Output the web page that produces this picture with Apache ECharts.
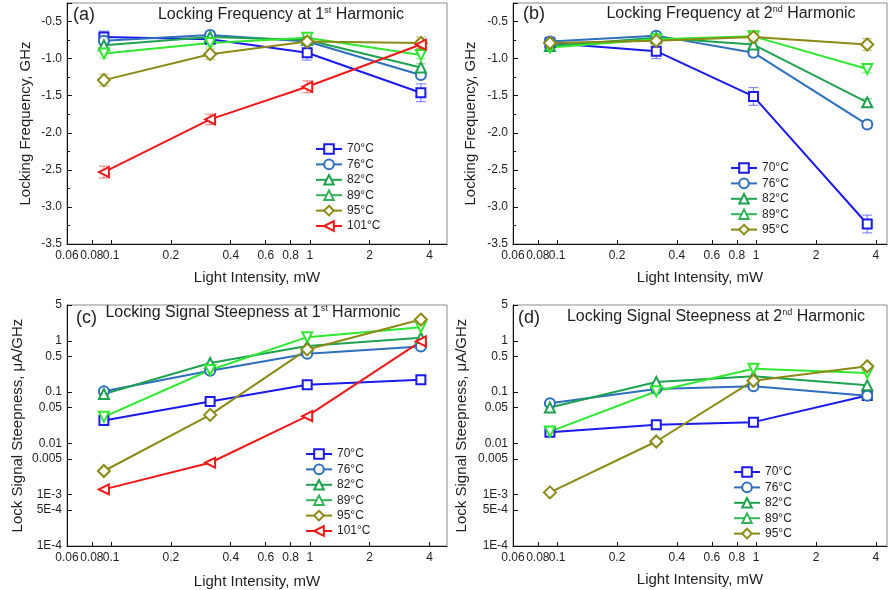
<!DOCTYPE html>
<html>
<head>
<meta charset="utf-8">
<script src="https://cdn.jsdelivr.net/npm/echarts@6/dist/echarts.min.js"></script>
<style>
  html, body { margin: 0; padding: 0; background: #fff; }
  #chart { width: 888px; height: 590px; }
</style>
</head>
<body>
<div id="chart"></div>
<script>
// Light intensity (mW) at which every curve was measured
const intensity = [0.092, 0.315, 0.97, 3.62];

const tempsFirst = ['70°C', '76°C', '82°C', '89°C', '95°C', '101°C'];
const tempsSecond = ['70°C', '76°C', '82°C', '89°C', '95°C'];

// (a) locking frequency at 1st harmonic, GHz, one row per temperature
const freqFirst = [
  [-0.71, -0.74, -0.92, -1.46],
  [-0.76, -0.68, -0.77, -1.22],
  [-0.82, -0.71, -0.75, -1.12],
  [-0.93, -0.79, -0.72, -0.95],
  [-1.29, -0.94, -0.77, -0.79],
  [-2.53, -1.82, -1.38, -0.81]
];
const freqFirstErr = [
  [0.08, 0.05, 0.10, 0.12],
  [0.05, 0.05, 0.05, 0.05],
  [0.05, 0.04, 0.05, 0.05],
  [0.06, 0.05, 0.05, 0.05],
  [0.08, 0.07, 0.05, 0.08],
  [0.08, 0.07, 0.08, 0.06]
];

// (b) locking frequency at 2nd harmonic, GHz
const freqSecond = [
  [-0.79, -0.90, -1.51, -3.23],
  [-0.77, -0.69, -0.92, -1.89],
  [-0.83, -0.72, -0.81, -1.59],
  [-0.85, -0.74, -0.70, -1.14],
  [-0.79, -0.76, -0.71, -0.81]
];
const freqSecondErr = [
  [0.06, 0.10, 0.12, 0.12],
  [0.05, 0.05, 0.05, 0.05],
  [0.05, 0.05, 0.05, 0.05],
  [0.05, 0.05, 0.05, 0.05],
  [0.08, 0.05, 0.07, 0.08]
];

// (c) locking signal steepness at 1st harmonic, µA/GHz
const steepFirst = [
  [0.028, 0.066, 0.14, 0.175],
  [0.104, 0.26, 0.56, 0.78],
  [0.092, 0.37, 0.79, 1.15],
  [0.033, 0.27, 1.18, 1.85],
  [0.0029, 0.036, 0.68, 2.6],
  [0.00127, 0.0042, 0.034, 0.98]
];

// (d) locking signal steepness at 2nd harmonic, µA/GHz
const steepSecond = [
  [0.0166, 0.023, 0.026, 0.086],
  [0.061, 0.115, 0.13, 0.085],
  [0.050, 0.158, 0.204, 0.136],
  [0.017, 0.104, 0.287, 0.236],
  [0.00111, 0.0109, 0.167, 0.319]
];

// Tick values
const xTicks = [0.06, 0.08, 0.1, 0.2, 0.4, 0.6, 0.8, 1, 2, 4];
const logYTicks = [1e-4, 5e-4, 1e-3, 5e-3, 0.01, 0.05, 0.1, 0.5, 1, 5];

// Per-temperature styling
const colors = ['#1a1aee', '#2d6fbd', '#1fa24f', '#2fe82f', '#8a8a14', '#f01818'];
const symbols = ['emptyRect', 'emptyCircle', 'emptyTriangle', 'emptyTriangle', 'emptyDiamond', 'emptyTriangle'];
const symbolSizes = [9, 10, 10, 10, 12, 10];
const rotations = [0, 0, 0, 180, 0, 90];
const legend89Color = '#34b45a';

const FONT = 'Liberation Sans, Arial, sans-serif';
const TEXT = '#1e1e1e';

const grids = [
  { left: 67, top: 3, width: 380, height: 241 },
  { left: 513, top: 3, width: 374, height: 241 },
  { left: 67, top: 305, width: 380, height: 241 },
  { left: 513, top: 305, width: 374, height: 241 }
];

function fmtX(v) { return String(+(+v).toPrecision(2)); }
function fmtLogY(v) {
  v = +v;
  if (v < 0.002) {
    const e = Math.floor(Math.log10(v) + 1e-9);
    const m = Math.round(v / Math.pow(10, e));
    return m + 'E' + e;
  }
  return String(+v.toPrecision(1));
}

function makeXAxis(gi, max, nameGap) {
  return {
    type: 'log', logBase: 10, gridIndex: gi, min: 0.06, max: max,
    name: 'Light Intensity, mW', nameLocation: 'middle', nameGap: nameGap,
    nameTextStyle: { fontSize: 15, color: TEXT, fontFamily: FONT },
    axisLine: { show: true, lineStyle: { color: '#111', width: 1 } },
    axisTick: { show: true, inside: true, length: 4, customValues: xTicks, lineStyle: { color: '#111' } },
    minorTick: { show: false },
    axisLabel: { customValues: xTicks, formatter: fmtX, fontSize: 12, color: TEXT, margin: 6, fontFamily: FONT },
    splitLine: { show: false }, minorSplitLine: { show: false }
  };
}

function makeFreqYAxis(gi, nameGap) {
  return {
    type: 'value', gridIndex: gi, min: -3.5, max: -0.25, interval: 0.5,
    name: 'Locking Frequency, GHz', nameLocation: 'middle', nameGap: nameGap,
    nameTextStyle: { fontSize: 15, color: TEXT, fontFamily: FONT },
    axisLine: { show: true, lineStyle: { color: '#111', width: 1 } },
    axisTick: { show: true, inside: true, length: 5, lineStyle: { color: '#111' } },
    minorTick: { show: true, splitNumber: 2, length: 3, lineStyle: { color: '#111' } },
    axisLabel: { showMaxLabel: false, fontSize: 12, color: TEXT, margin: 5, fontFamily: FONT,
      formatter: v => (+v).toFixed(1) },
    splitLine: { show: false }
  };
}

function makeSteepYAxis(gi, nameGap) {
  return {
    type: 'log', logBase: 10, gridIndex: gi, min: 1e-4, max: 5,
    name: 'Lock Signal Steepness, μA/GHz', nameLocation: 'middle', nameGap: nameGap,
    nameTextStyle: { fontSize: 15, color: TEXT, fontFamily: FONT },
    axisLine: { show: true, lineStyle: { color: '#111', width: 1 } },
    axisTick: { show: true, inside: true, length: 5, customValues: logYTicks, lineStyle: { color: '#111' } },
    minorTick: { show: false },
    axisLabel: { customValues: logYTicks, formatter: fmtLogY, fontSize: 12, color: TEXT, margin: 5, fontFamily: FONT },
    splitLine: { show: false }, minorSplitLine: { show: false }
  };
}

function rgba(hex, a) {
  const n = parseInt(hex.slice(1), 16);
  return 'rgba(' + (n >> 16) + ',' + ((n >> 8) & 255) + ',' + (n & 255) + ',' + a + ')';
}

const series = [];
const errSeries = [];

function addPanel(gi, names, values, errors) {
  names.forEach((name, i) => {
    const pts = intensity.map((x, k) => [x, values[i][k]]);
    series.push({
      type: 'line', name: name, xAxisIndex: gi, yAxisIndex: gi,
      data: pts, color: colors[i],
      symbol: symbols[i], symbolSize: symbolSizes[i], symbolRotate: rotations[i],
      lineStyle: { width: 2, color: colors[i] },
      itemStyle: { color: colors[i], borderWidth: 1.3 },
      emphasis: { disabled: true }, animation: false, z: 3
    });
    if (errors) {
      const col = rgba(colors[i], 0.5);
      errSeries.push({
        type: 'custom', xAxisIndex: gi, yAxisIndex: gi, z: 2, animation: false,
        data: intensity.map((x, k) => [x, values[i][k], errors[i][k]]),
        renderItem: (params, api) => {
          const x = api.value(0), y = api.value(1), e = api.value(2);
          const hi = api.coord([x, y + e]);
          const lo = api.coord([x, y - e]);
          const w = 5;
          const st = { stroke: col, lineWidth: 1.2 };
          return {
            type: 'group', children: [
              { type: 'line', shape: { x1: hi[0], y1: hi[1], x2: lo[0], y2: lo[1] }, style: st },
              { type: 'line', shape: { x1: hi[0] - w, y1: hi[1], x2: hi[0] + w, y2: hi[1] }, style: st },
              { type: 'line', shape: { x1: lo[0] - w, y1: lo[1], x2: lo[0] + w, y2: lo[1] }, style: st }
            ]
          };
        }
      });
    }
  });
}

addPanel(0, tempsFirst, freqFirst, freqFirstErr);
addPanel(1, tempsSecond, freqSecond, freqSecondErr);
addPanel(2, tempsFirst, steepFirst, null);
addPanel(3, tempsSecond, steepSecond, null);

function legendData(names) {
  return names.map(n => n === '89°C'
    ? { name: n, symbolRotate: 0, itemStyle: { color: legend89Color }, lineStyle: { color: legend89Color } }
    : { name: n });
}

function makeLegend(names, left, top) {
  return {
    orient: 'vertical', left: left, top: top, padding: 0,
    itemWidth: 26, itemHeight: 12, itemGap: 3.4,
    selectedMode: false,
    textStyle: { fontSize: 12, color: TEXT, fontFamily: FONT, lineHeight: 12 },
    data: legendData(names)
  };
}

function heading(x, y, pre, sup, post) {
  return {
    type: 'text', x: x, y: y, z: 10,
    style: {
      text: pre + '{s|' + sup + '}' + post,
      align: 'center', verticalAlign: 'middle',
      font: '16px ' + FONT, fill: TEXT,
      rich: {
        s: { fontSize: 9, fontFamily: FONT, verticalAlign: 'top', lineHeight: 9, fill: TEXT }
      },
      lineHeight: 18
    }
  };
}

function panelLabel(x, y, t) {
  return {
    type: 'text', x: x, y: y, z: 10,
    style: { text: t, font: '18px ' + FONT, fill: TEXT, align: 'left', verticalAlign: 'middle' }
  };
}

const option = {
  backgroundColor: '#fff',
  animation: false,
  textStyle: { fontFamily: FONT },
  grid: grids.map(g => Object.assign({ show: true, borderColor: '#8a8a8a', borderWidth: 1, backgroundColor: 'transparent' }, g)),
  xAxis: [
    makeXAxis(0, 4.9, 26),
    makeXAxis(1, 4.55, 26),
    makeXAxis(2, 4.9, 28),
    makeXAxis(3, 4.55, 26)
  ],
  yAxis: [
    makeFreqYAxis(0, 34),
    makeFreqYAxis(1, 35),
    makeSteepYAxis(2, 42),
    makeSteepYAxis(3, 44)
  ],
  legend: [
    makeLegend(tempsFirst, 315, 143),
    makeLegend(tempsSecond, 730, 162),
    makeLegend(tempsFirst, 305, 448),
    makeLegend(tempsSecond, 733, 466)
  ],
  graphic: [
    heading(281, 15, 'Locking Frequency at 1', 'st', ' Harmonic'),
    heading(731, 14, 'Locking Frequency at 2', 'nd', ' Harmonic'),
    heading(253, 313, 'Locking Signal Steepness at 1', 'st', ' Harmonic'),
    heading(716, 317, 'Locking Signal Steepness at 2', 'nd', ' Harmonic'),
    panelLabel(73, 15, '(a)'),
    panelLabel(523, 14, '(b)'),
    panelLabel(76, 318, '(c)'),
    panelLabel(518, 318, '(d)')
  ],
  series: series.concat(errSeries)
};

const chart = echarts.init(document.getElementById('chart'), null, { renderer: 'canvas' });
chart.setOption(option);
</script>
</body>
</html>
